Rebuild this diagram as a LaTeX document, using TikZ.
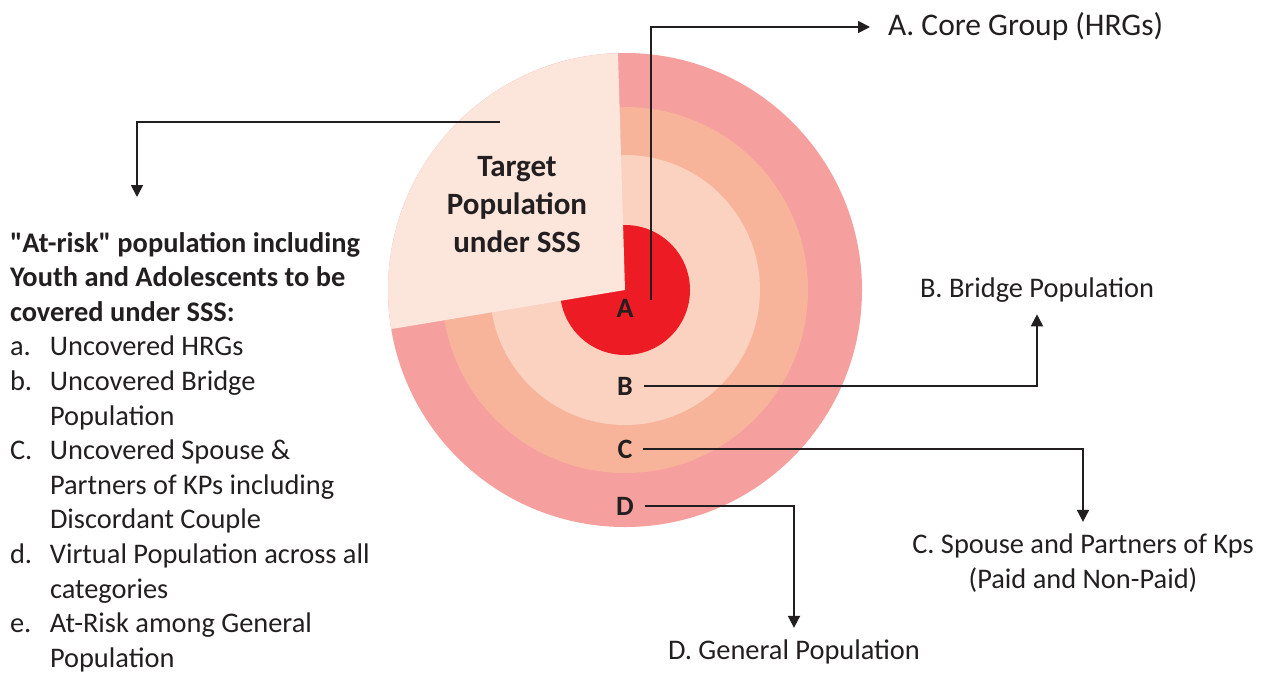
\documentclass[tikz,border=0pt]{standalone}
\usepackage{fontspec}
\setmainfont{Carlito}
\usepackage{tikz}
\usetikzlibrary{arrows.meta}

\definecolor{ringD}{HTML}{F5A09E}
\definecolor{ringC}{HTML}{F8B49A}
\definecolor{ringB}{HTML}{FBD1C0}
\definecolor{coreA}{HTML}{ED1C24}
\definecolor{wedge}{HTML}{FCE5DB}
\definecolor{ink}{HTML}{231F20}

\newcommand{\bodyfont}{\fontsize{28.4}{34.6}\selectfont}

\begin{document}
\begin{tikzpicture}[x=1pt,y=-1pt]
\useasboundingbox (0,0) rectangle (1266,672);

% rings and target wedge
\coordinate (c) at (625,290);
\fill[ringD] (c) circle[radius=237pt];
\fill[ringC] (c) circle[radius=183pt];
\fill[ringB] (c) circle[radius=135pt];
\fill[coreA] (c) circle[radius=65pt];
\fill[wedge] (c) -- ++(91.7:237pt) arc[start angle=91.7, end angle=189.5, radius=237pt] -- cycle;

\node[font=\fontsize{31}{38}\selectfont\bfseries, align=center, text=ink] (tgt) at (517,205) {Target\\Population\\under SSS};

\begin{scope}[every node/.style={font=\fontsize{28}{30}\selectfont\bfseries, text=ink, inner sep=0pt, outer sep=11pt}]
    \node (lA) at (625,308) {A};
    \node (lB) at (625,386) {B};
    \node (lC) at (625,449) {C};
    \node (lD) at (625,506) {D};
\end{scope}

\begin{scope}[every node/.style={font=\bodyfont, text=ink, inner sep=0pt, outer sep=12pt}]
    \node[anchor=west, outer sep=18pt, font=\fontsize{31.5}{36}\selectfont] (tA) at (870,27) {A. Core Group (HRGs)};
    \node (tB) at (1037,290) {B. Bridge Population};
    \node[align=center] (tC) at (1083,563) {C. Spouse and Partners of Kps\\(Paid and Non-Paid)};
    \node (tD) at (794,652) {D. General Population};
    \node[anchor=base west, outer sep=0pt] (tL) at (10,252) {%
        \begin{tabular}[t]{@{}p{40pt}@{}l@{}}
        \multicolumn{2}{@{}l@{}}{\bfseries \textquotedbl At-risk\textquotedbl\ population including}\\
        \multicolumn{2}{@{}l@{}}{\bfseries Youth and Adolescents to be}\\
        \multicolumn{2}{@{}l@{}}{\bfseries covered under SSS:}\\
        a. & Uncovered HRGs\\
        b. & Uncovered Bridge\\
           & Population\\
        C. & Uncovered Spouse \&\\
           & Partners of KPs including\\
           & Discordant Couple\\
        d. & Virtual Population across all\\
           & categories\\
        e. & At-Risk among General\\
           & Population
        \end{tabular}};
\end{scope}

\coordinate (pA) at (651,300);
\coordinate (pL) at (500,122);
\coordinate (qL) at (137,197);

\begin{scope}[>={Triangle[length=12pt,width=12pt]}, every path/.style={draw=ink, line width=1.8pt}]
    \draw[->] (pA) |- (tA);
    \draw[->] (lB) -| (tB);
    \draw[->] (lC) -| (tC);
    \draw[->] (lD) -| (tD);
    \draw[->] (pL) -| (qL);
\end{scope}
\end{tikzpicture}
\end{document}
